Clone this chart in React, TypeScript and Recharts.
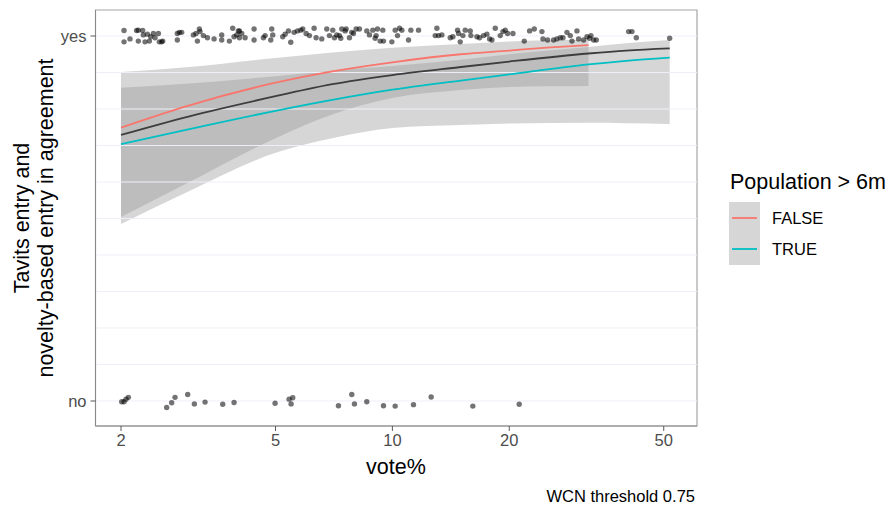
import React from "react";
import {
  ComposedChart,
  XAxis,
  YAxis,
  Scatter,
  Line,
  Area,
  ReferenceLine,
  ReferenceArea,
} from "recharts";

const FONT = "'Liberation Sans', Arial, sans-serif";

// axis setup
const xTicks = [2, 5, 10, 20, 50];
const xDomain = [1.719, 60.9];
const yBreaks = [0, 1];
const yLabels = ["no", "yes"];
const yDomain = [-0.0685, 1.0712];
const gridY = [0, 0.1, 0.2, 0.3, 0.4, 0.5, 0.6, 0.7, 0.8, 0.9, 1];

// jittered observations, agreement = yes
const yesVote = [
  2.036, 2.036, 2.109, 2.194, 2.216, 2.216, 2.274, 2.306, 2.283, 2.338, 2.366, 2.385,
  2.423, 2.447, 2.496, 2.51, 2.561, 2.545, 2.793, 2.827, 2.793, 2.866, 3.072, 3.121,
  3.183, 3.196, 3.146, 3.26, 3.338, 3.473, 3.634, 3.634, 3.803, 3.879, 3.91, 3.972,
  4.012, 4.036, 4.036, 4.092, 4.174, 4.403, 4.403, 4.654, 4.7, 4.889, 4.918, 4.861,
  5.219, 5.292, 5.398, 5.473, 5.582, 5.694, 5.808, 5.877, 5.994, 6.114, 6.286, 6.361,
  6.578, 6.776, 6.884, 7.022, 7.092, 7.191, 7.305, 7.364, 7.407, 7.556, 7.6, 7.752,
  7.86, 7.938, 8.065, 8.226, 8.592, 8.729, 8.903, 9.028, 9.081, 9.153, 9.3, 9.448,
  9.485, 9.969, 10.168, 10.309, 10.433, 10.578, 11.005, 11.159, 11.678, 12.892, 13.02,
  13.149, 13.412, 14.092, 14.317, 14.718, 14.806, 14.953, 15.192, 15.404, 15.868,
  15.931, 16.508, 16.771, 17.175, 17.518, 17.798, 18.045, 18.406, 18.96, 19.263,
  19.531, 19.804, 20.439, 21.862, 22.563, 23.197, 24.277, 24.423, 25.109, 26.019,
  26.537, 27.068, 27.499, 28.161, 28.725, 29.01, 29.882, 30.178, 31.088, 31.71, 32.215,
  32.47, 32.988, 33.513, 40.603, 41.415, 42.494, 51.787,
];
const yesJit = [
  1.015, 0.984, 0.992, 1.015, 1.016, 0.986, 1.015, 0.984, 1.003, 1.005, 0.986, 0.998,
  1.007, 0.995, 1.007, 0.984, 0.986, 0.984, 1.007, 1.01, 0.989, 1.01, 1.003, 1.007,
  1.019, 1.012, 0.986, 1.001, 0.995, 0.992, 1.003, 0.989, 0.986, 1.021, 0.998, 1.003,
  1.014, 1.014, 0.995, 1.007, 0.995, 1.019, 0.989, 0.995, 1.001, 1.019, 1.003, 0.989,
  0.998, 1.005, 1.014, 0.983, 1.01, 1.014, 1.016, 1.019, 1.007, 1.001, 1.021, 0.995,
  0.992, 1.019, 1.001, 1.016, 0.995, 1.003, 1.001, 0.994, 1.019, 1.014, 1.019, 0.995,
  1.01, 1.007, 1.019, 1.019, 1.014, 1.003, 1.016, 0.994, 1.001, 1.019, 0.986, 1.016,
  0.986, 0.984, 1.016, 1.001, 1.021, 1.016, 0.989, 1.016, 1.016, 1.001, 1.021,
  1.001, 1.003, 0.995, 0.998, 1.016, 1.007, 0.984, 1.001, 1.016, 1.014,
  1.001, 0.998, 0.995, 1.001, 1.005, 0.992, 0.989, 1.021, 1.001, 1.012,
  1.016, 1.007, 1.007, 0.986, 1.014, 1.019, 1.012, 0.992, 0.989, 0.989,
  0.992, 0.995, 0.995, 1.01, 1.001, 0.986, 1.014, 0.992, 0.989, 0.998, 0.994,
  1.001, 0.989, 0.989, 1.012, 1.012, 0.995, 0.994,
];

// jittered observations, agreement = no
const noVote = [
  2.008, 2.036, 2.06, 2.089, 2.622, 2.701, 2.755, 2.97, 3.09, 3.292, 3.656, 3.91, 4.987,
  5.419, 5.484, 5.538, 7.262, 7.86, 7.985, 8.592, 9.485, 10.165, 11.333, 12.585, 16.115,
  21.216,
];
const noJit = [
  -0.002, -0.002, 0.005, 0.01, -0.018, -0.005, 0.01, 0.018, -0.008, -0.003, -0.009,
  -0.004, -0.006, 0.005, -0.008, 0.009, -0.013, 0.018, -0.008, -0.002, -0.013, -0.014,
  -0.01, 0.011, -0.014, -0.009,
];

// fitted curves (logistic smooth)
const allFitVote = [2, 3, 5, 7, 10, 15, 20, 32, 40, 51.8];
const allFitP = [0.729, 0.78, 0.835, 0.868, 0.893, 0.915, 0.93, 0.952, 0.96, 0.966];

const falseFitVote = [2, 3, 5, 7, 10, 15, 20, 25, 32];
const falseFitP = [0.749, 0.81, 0.872, 0.903, 0.928, 0.95, 0.96, 0.968, 0.975];
const falseLo = [0.504, 0.6, 0.72, 0.785, 0.83, 0.852, 0.86, 0.862, 0.863];
const falseHi = [0.901, 0.915, 0.94, 0.955, 0.968, 0.978, 0.985, 0.988, 0.99];

const trueFitVote = [2, 3, 5, 7, 10, 15, 20, 32, 40, 51.8];
const trueFitP = [0.704, 0.745, 0.795, 0.825, 0.853, 0.878, 0.895, 0.922, 0.932, 0.941];
const trueLo = [0.485, 0.575, 0.68, 0.72, 0.748, 0.756, 0.76, 0.762, 0.761, 0.759];
const trueHi = [0.858, 0.87, 0.89, 0.905, 0.918, 0.935, 0.95, 0.97, 0.98, 0.989];

const groups = [
  { name: "FALSE", color: "#F8766D" },
  { name: "TRUE", color: "#00BFC4" },
];

const yesPoints = yesVote.map((v, i) => ({ v, p: yesJit[i] }));
const noPoints = noVote.map((v, i) => ({ v, p: noJit[i] }));
const allFit = allFitVote.map((v, i) => ({ v, p: allFitP[i] }));
const falseFit = falseFitVote.map((v, i) => ({ v, p: falseFitP[i] }));
const trueFit = trueFitVote.map((v, i) => ({ v, p: trueFitP[i] }));
const falseBand = falseFitVote.map((v, i) => ({ v, band: [falseLo[i], falseHi[i]] }));
const trueBand = trueFitVote.map((v, i) => ({ v, band: [trueLo[i], trueHi[i]] }));

const Dot = (props: any) => (
  <circle cx={props.cx} cy={props.cy} r={2.7} fill="#000" fillOpacity={0.55} />
);

export default function App() {
  return (
    <div style={{ position: "absolute", left: 0, top: 0, width: 888, height: 511, background: "#fff" }}>
      <ComposedChart
        width={888}
        height={511}
        margin={{ top: 10, right: 191, bottom: 0, left: 0 }}
      >
        <XAxis
          type="number"
          dataKey="v"
          scale="log"
          domain={xDomain}
          allowDataOverflow
          ticks={xTicks}
          height={85}
          tickSize={5}
          tickMargin={3}
          stroke="#8a8a8a"
          tickLine={{ stroke: "#595959" }}
          tick={{ fill: "#4D4D4D", fontSize: 16.5, fontFamily: FONT }}
        />
        <YAxis
          type="number"
          dataKey="p"
          domain={yDomain}
          allowDataOverflow
          ticks={yBreaks}
          tickFormatter={(t: number) => yLabels[yBreaks.indexOf(t)]}
          width={95.5}
          tickSize={5}
          tickMargin={4}
          stroke="#8a8a8a"
          tickLine={{ stroke: "#595959" }}
          tick={{ fill: "#4D4D4D", fontSize: 16.5, fontFamily: FONT }}
        />
        {gridY.map((g) => (
          <ReferenceLine key={g} y={g} stroke="#EEEEF8" strokeWidth={1} />
        ))}
        <ReferenceArea
          x1={xDomain[0]}
          x2={xDomain[1]}
          y1={yDomain[0]}
          y2={yDomain[1]}
          fill="none"
          stroke="#A6A6A6"
          strokeWidth={1.2}
        />
        <Scatter data={yesPoints} dataKey="p" shape={Dot} isAnimationActive={false} />
        <Scatter data={noPoints} dataKey="p" shape={Dot} isAnimationActive={false} />
        <Area
          data={falseBand}
          dataKey="band"
          type="monotone"
          stroke="none"
          fill="#999999"
          fillOpacity={0.4}
          isAnimationActive={false}
        />
        <Area
          data={trueBand}
          dataKey="band"
          type="monotone"
          stroke="none"
          fill="#999999"
          fillOpacity={0.4}
          isAnimationActive={false}
        />
        <Line data={allFit} dataKey="p" type="monotone" stroke="#3d3d3d" strokeWidth={1.8} dot={false} isAnimationActive={false} />
        <Line data={falseFit} dataKey="p" type="monotone" stroke={groups[0].color} strokeWidth={1.8} dot={false} isAnimationActive={false} />
        <Line data={trueFit} dataKey="p" type="monotone" stroke={groups[1].color} strokeWidth={1.8} dot={false} isAnimationActive={false} />
      </ComposedChart>
      <svg
        width={888}
        height={511}
        style={{ position: "absolute", left: 0, top: 0, pointerEvents: "none" }}
      >
        <g fontFamily={FONT} fill="#000" textAnchor="middle">
          <text transform="translate(22,218) rotate(-90)" dominantBaseline="central" fontSize={21.5}>
            Tavits entry and
          </text>
          <text transform="translate(46,218) rotate(-90)" dominantBaseline="central" fontSize={21.5}>
            novelty-based entry in agreement
          </text>
          <text x={396} y={467} dominantBaseline="central" fontSize={21.5}>
            vote%
          </text>
          <text x={695} y={496} dominantBaseline="central" fontSize={16.5} textAnchor="end">
            WCN threshold 0.75
          </text>
        </g>
        {/* legend */}
        <g transform="translate(728,160)" fontFamily={FONT} fill="#000">
          <text x={2} y={22} dominantBaseline="central" fontSize={21.5}>
            Population &gt; 6m
          </text>
          <rect x={1} y={42} width={31} height={63} fill="#D6D6D6" />
          {groups.map((g, i) => (
            <g key={g.name}>
              <line x1={4} x2={29} y1={58 + i * 31} y2={58 + i * 31} stroke={g.color} strokeWidth={1.8} />
              <text x={44} y={58 + i * 31} dominantBaseline="central" fontSize={16.5}>
                {g.name}
              </text>
            </g>
          ))}
        </g>
      </svg>
    </div>
  );
}
